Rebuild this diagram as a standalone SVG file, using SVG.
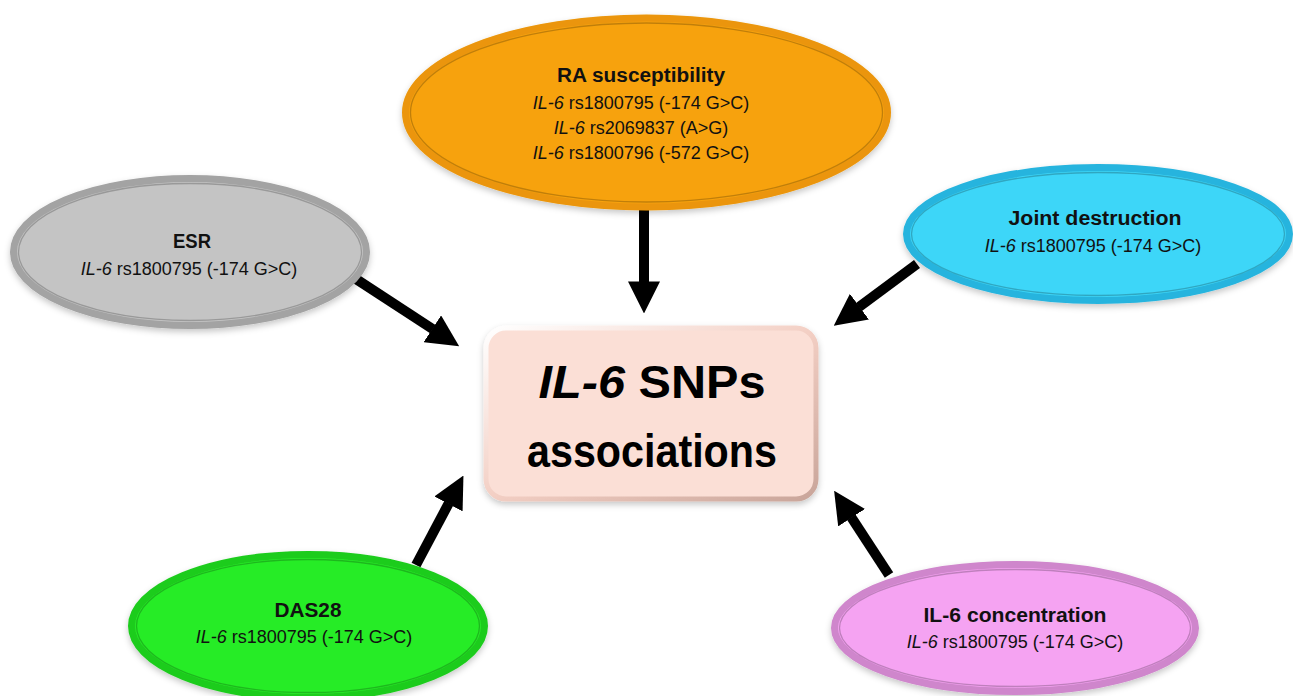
<svg xmlns="http://www.w3.org/2000/svg" width="1293" height="696" viewBox="0 0 1293 696">
  <defs>
    <style>
      .title { font-family: "Liberation Sans", Arial, sans-serif; font-weight: bold; font-size: 20px; fill: #111; text-anchor: middle; }
      .sub { font-family: "Liberation Sans", Arial, sans-serif; font-size: 18px; fill: #111; text-anchor: middle; }
      .it { font-style: italic; }
      .big { font-family: "Liberation Sans", Arial, sans-serif; font-weight: bold; font-size: 46px; fill: #000; text-anchor: middle; }
      .rim { stroke-width: 7; filter: url(#shadow); }
      .inner { fill: none; stroke: #000; stroke-opacity: 0.22; stroke-width: 1.3; }
      .conn { stroke: #000; stroke-width: 10; fill: none; marker-end: url(#head); }
    </style>
    <filter id="shadow" x="-10%" y="-10%" width="120%" height="130%">
      <feDropShadow dx="0" dy="3" stdDeviation="3" flood-color="#000" flood-opacity="0.22"/>
    </filter>
    <marker id="head" markerUnits="strokeWidth" markerWidth="3.2" markerHeight="3.2" viewBox="0 0 3 3" refX="0.05" refY="1.5" orient="auto">
      <path d="M0,0 L3,1.5 L0,3 z" fill="#000"/>
    </marker>
    <linearGradient id="boxEdge" x1="0" y1="0" x2="1" y2="1">
      <stop offset="0" stop-color="#ffffff"/>
      <stop offset="0.5" stop-color="#f3cfc4"/>
      <stop offset="1" stop-color="#c9a59a"/>
    </linearGradient>
  </defs>

  <!-- arrows pointing into the central box -->
  <g id="connectors">
    <path class="conn" d="M644,205 L644,282"/>
    <path class="conn" d="M356,279 L432.8,329.1"/>
    <path class="conn" d="M917,264 L859,307"/>
    <path class="conn" d="M416,565 L448.7,503.4"/>
    <path class="conn" d="M889,575 L851.3,517.2"/>
  </g>

  <g id="node-ra">
    <ellipse class="rim" cx="646.5" cy="112.5" rx="241" ry="94.5" fill="#f7a20e" stroke="#eb9508"/>
    <ellipse class="inner" cx="646.5" cy="112.5" rx="236" ry="89.5"/>
    <text class="title" x="641" y="82" textLength="168" lengthAdjust="spacingAndGlyphs">RA susceptibility</text>
    <text class="sub" x="641" y="109"><tspan class="it">IL-6</tspan> rs1800795 (-174 G&gt;C)</text>
    <text class="sub" x="641" y="134"><tspan class="it">IL-6</tspan> rs2069837 (A&gt;G)</text>
    <text class="sub" x="641" y="159"><tspan class="it">IL-6</tspan> rs1800796 (-572 G&gt;C)</text>
  </g>

  <g id="node-esr">
    <ellipse class="rim" cx="190" cy="252" rx="176.5" ry="73.5" fill="#c4c4c4" stroke="#a3a3a3"/>
    <ellipse class="inner" cx="190" cy="252" rx="171.5" ry="68.5"/>
    <text class="title" x="192" y="248" textLength="38" lengthAdjust="spacingAndGlyphs">ESR</text>
    <text class="sub" x="189" y="275"><tspan class="it">IL-6</tspan> rs1800795 (-174 G&gt;C)</text>
  </g>

  <g id="node-joint">
    <ellipse class="rim" cx="1098" cy="234" rx="191.5" ry="66.5" fill="#3dd6f8" stroke="#27b4de"/>
    <ellipse class="inner" cx="1098" cy="234" rx="186.5" ry="61.5"/>
    <text class="title" x="1095" y="225" textLength="173" lengthAdjust="spacingAndGlyphs">Joint destruction</text>
    <text class="sub" x="1093" y="252"><tspan class="it">IL-6</tspan> rs1800795 (-174 G&gt;C)</text>
  </g>

  <g id="node-das28">
    <ellipse class="rim" cx="308" cy="626" rx="176.5" ry="71.5" fill="#28ec28" stroke="#1fcc1f"/>
    <ellipse class="inner" cx="308" cy="626" rx="171.5" ry="66.5"/>
    <text class="title" x="308" y="617" textLength="67" lengthAdjust="spacingAndGlyphs">DAS28</text>
    <text class="sub" x="304" y="643"><tspan class="it">IL-6</tspan> rs1800795 (-174 G&gt;C)</text>
  </g>

  <g id="node-il6conc">
    <ellipse class="rim" cx="1015" cy="628" rx="180.5" ry="63.5" fill="#f5a3f2" stroke="#cf86cc"/>
    <ellipse class="inner" cx="1015" cy="628" rx="175.5" ry="58.5"/>
    <text class="title" x="1015" y="622" textLength="183" lengthAdjust="spacingAndGlyphs">IL-6 concentration</text>
    <text class="sub" x="1015" y="648"><tspan class="it">IL-6</tspan> rs1800795 (-174 G&gt;C)</text>
  </g>

  <g id="node-center">
    <rect x="486" y="328" width="330" height="171" rx="20" ry="20" fill="#fbdfd6" stroke="url(#boxEdge)" stroke-width="5" filter="url(#shadow)"/>
    <text class="big" x="652" y="398" textLength="227" lengthAdjust="spacingAndGlyphs"><tspan class="it">IL-6</tspan> SNPs</text>
    <text class="big" x="652" y="467" textLength="250" lengthAdjust="spacingAndGlyphs">associations</text>
  </g>
</svg>
